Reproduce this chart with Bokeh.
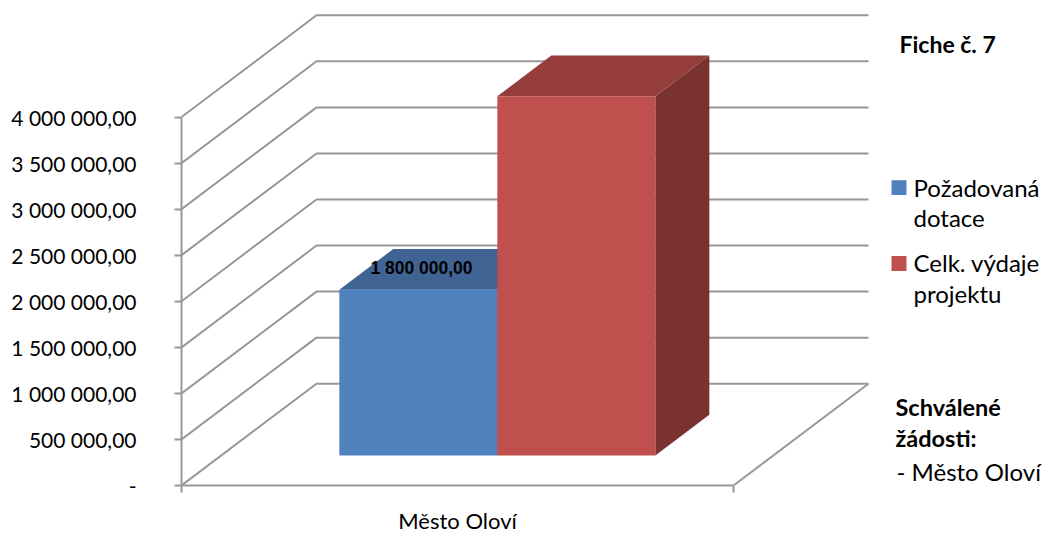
from bokeh.plotting import figure
from bokeh.embed import file_html
from bokeh.resources import INLINE
from bokeh.core.properties import value
from bokeh.models import Range1d, FixedTicker

category = ["Město Oloví"]
series_names = ["Požadovaná dotace", "Celk. výdaje projektu"]
requested = [1800000]
total = [3900000]
y_ticks = [0, 500000, 1000000, 1500000, 2000000, 2500000, 3000000, 3500000, 4000000]
y_tick_labels = ["-", "500 000,00", "1 000 000,00", "1 500 000,00", "2 000 000,00",
                 "2 500 000,00", "3 000 000,00", "3 500 000,00", "4 000 000,00"]
data_label = "1 800 000,00"

GREY = "#989898"
PX = 92.3 / 1e6            # pixels per unit of value
Y0 = 486                   # image row of value 0
def v(row):                # image row -> value
    return (Y0 - row) / PX

LEFT, RIGHT = 181, 1046
DX, DV = 135, v(384)       # full depth of the 3D box
FRONT_W = 552              # width of floor front edge
CAT_X = LEFT + FRONT_W * 0.5

p = figure(width=1046, height=536, output_backend="svg", toolbar_location=None,
           x_range=Range1d(LEFT, RIGHT), y_range=Range1d(0, v(0)),
           min_border_left=LEFT, min_border_right=0, min_border_top=0, min_border_bottom=50)
p.outline_line_color = None
p.grid.visible = False
p.background_fill_color = "white"
p.border_fill_color = "white"

# side wall, back wall
for t in y_ticks:
    p.line([LEFT, LEFT + DX, LEFT + DX + FRONT_W], [t, t + DV, t + DV], line_color=GREY, line_width=2)
p.line([LEFT + FRONT_W, LEFT + FRONT_W + DX], [0, DV], line_color=GREY, line_width=2)

# bars
t0, t1 = 0.295, 0.695
bx0 = CAT_X + DX * t0
W = 158
vb = DV * t0
depth_x = DX * (t1 - t0)
depth_v = DV * (t1 - t0)

def bar(x0, x1, val, front, top, side):
    p.patch([x1, x1 + depth_x, x1 + depth_x, x1],
            [vb, vb + depth_v, vb + val + depth_v, vb + val], fill_color=side, line_color=None)
    p.patch([x0, x1, x1 + depth_x, x0 + depth_x],
            [vb + val, vb + val, vb + val + depth_v, vb + val + depth_v], fill_color=top, line_color=None)
    p.quad(left=[x0], right=[x1], bottom=[vb], top=[vb + val], fill_color=front, line_color=None)

BLUE, RED = "#4f81bd", "#c0504d"
bar(bx0 - W, bx0, requested[0], BLUE, "#3f6493", "#335278")
bar(bx0, bx0 + W, total[0], RED, "#943d3b", "#7a3230")

p.text([421], [v(268)], text=[data_label], text_font=value("Liberation Sans"), text_font_style="bold",
       text_font_size="17.5px", text_align="center", text_baseline="alphabetic", text_color="#000000")

# legend
for row, col in [(180, BLUE), (256, RED)]:
    p.quad(left=[891], right=[906], top=[v(row)], bottom=[v(row + 15)], fill_color=col, line_color=None)

def txt(x, row, s, bold=False, size="24px"):
    p.text([x], [v(row)], text=[s], text_font=value("Lato"), text_font_size=size,
           text_font_style="bold" if bold else "normal",
           text_align="left", text_baseline="alphabetic", text_color="#000000")

txt(913, 187, "Požadovaná")
txt(913, 217, "dotace")
txt(913, 263, "Celk. výdaje")
txt(913, 294, "projektu")
txt(899, 44, "Fiche č. 7", True, "23px")
txt(895, 407, "Schválené", True, "23.5px")
txt(895, 438, "žádosti:", True, "23.5px")
txt(896, 472, "- Město Oloví")

# axes
ax = p.xaxis[0]
ax.bounds = (LEFT, LEFT + FRONT_W)
ax.ticker = FixedTicker(ticks=[CAT_X], minor_ticks=[LEFT, LEFT + FRONT_W])
ax.major_label_overrides = {CAT_X: category[0]}
ax.major_tick_out = 0
ax.major_tick_in = 0
ax.minor_tick_out = 7
ax.minor_tick_in = 0
ax.minor_tick_line_color = GREY
ax.minor_tick_line_width = 2
ax.axis_line_color = GREY
ax.axis_line_width = 2
ax.major_label_standoff = 14
ax.major_label_text_font = "Lato"
ax.major_label_text_font_size = "22px"
ax.major_label_text_color = "#000000"

ay = p.yaxis[0]
ay.bounds = (0, 4000000)
ay.ticker = FixedTicker(ticks=y_ticks, minor_ticks=[])
ay.major_label_overrides = {t: s for t, s in zip(y_ticks, y_tick_labels)}
ay.major_tick_out = 7
ay.major_tick_in = 0
ay.major_tick_line_color = GREY
ay.major_tick_line_width = 2
ay.axis_line_color = GREY
ay.axis_line_width = 2
ay.major_label_standoff = 38
ay.major_label_text_font = "Lato"
ay.major_label_text_font_size = "21px"
ay.major_label_text_color = "#000000"

open("out.html", "w").write(file_html(p, INLINE))
